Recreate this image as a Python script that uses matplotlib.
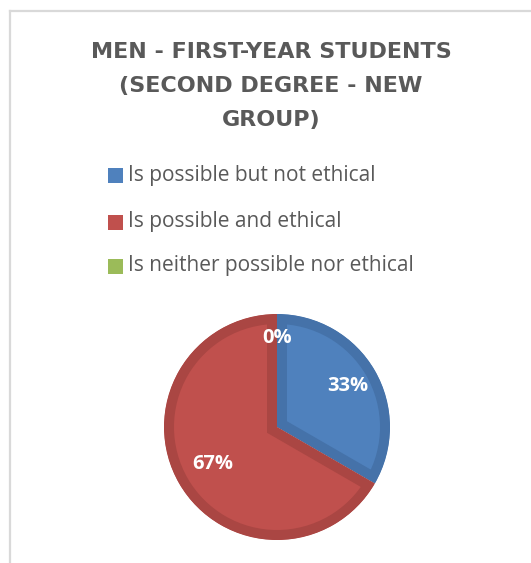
import matplotlib
matplotlib.use("Agg")
import matplotlib.pyplot as plt
from matplotlib.patches import Rectangle
from matplotlib.lines import Line2D
import numpy as np

# Chart data
title = "MEN - FIRST-YEAR STUDENTS\n(SECOND DEGREE - NEW\nGROUP)"
categories = [
    "Is possible but not ethical",
    "Is possible and ethical",
    "Is neither possible nor ethical",
]
values = [1, 2, 0]
labels = ["33%", "67%", "0%"]

face_colors = ["#4F81BD", "#C0504D", "#9BBB59"]
edge_colors = ["#4572A9", "#AA4643", "#8AA84F"]
text_color = "#595959"
font = ["Open Sans", "DejaVu Sans"]
title_font = ["DejaVu Sans"]

W, H = 531, 563
fig = plt.figure(figsize=(W / 100, H / 100), dpi=100)
fig.patch.set_facecolor("white")

# Chart area frame (top and left edges visible)
frame_x, frame_y = 10, 10.5
fig.add_artist(Line2D([frame_x / W, 1.0], [1 - frame_y / H, 1 - frame_y / H],
                      color="#D9D9D9", lw=1.6, transform=fig.transFigure))
fig.add_artist(Line2D([frame_x / W, frame_x / W], [1 - frame_y / H, 0.0],
                      color="#D9D9D9", lw=1.6, transform=fig.transFigure))

# Title
fig.text(271 / W, 1 - 86 / H, title, ha="center", va="center",
         fontsize=16, fontweight="bold", color=text_color, family=title_font,
         linespacing=1.9)

# Legend
legend_x = 108
legend_rows = [176, 222, 266]
sq = 15
for cat, col, yc in zip(categories, face_colors, legend_rows):
    fig.add_artist(Rectangle((legend_x / W, 1 - (yc + sq / 2) / H), sq / W, sq / H,
                             facecolor=col, edgecolor="none",
                             transform=fig.transFigure))
    fig.text((legend_x + sq + 5) / W, 1 - yc / H, cat, ha="left", va="center",
             fontsize=15, color=text_color, family=font)

# Pie
cx, cy, r = 277, 427, 113
ax = fig.add_axes([(cx - r) / W, (H - cy - r) / H, 2 * r / W, 2 * r / H])
wedges, _ = ax.pie(values, colors=face_colors, startangle=90, counterclock=False,
                   radius=1.0, wedgeprops=dict(linewidth=0))
bevel_px = 10
for w, ec, v in zip(wedges, edge_colors, values):
    if v == 0:
        continue
    # inner bevel: a thick stroke clipped to the wedge itself
    w.set_edgecolor(ec)
    w.set_linewidth(2 * bevel_px * 72 / 100)
    w.set_joinstyle("miter")
    w.set_clip_on(True)
    w.set_clip_path(w)

# Data labels
total = sum(values)
dists = [0.72, 0.66, 0.79]
angle = 90.0
for v, lab, d in zip(values, labels, dists):
    span = 360.0 * v / total
    mid = np.deg2rad(angle - span / 2)
    ax.text(d * np.cos(mid), d * np.sin(mid), lab, ha="center", va="center",
            fontsize=14.5, fontweight="bold", color="white", family=font)
    angle -= span

ax.set_xlim(-1, 1)
ax.set_ylim(-1, 1)
ax.set_aspect("equal")
ax.axis("off")

fig.savefig("out.png", dpi=100, facecolor="white")
